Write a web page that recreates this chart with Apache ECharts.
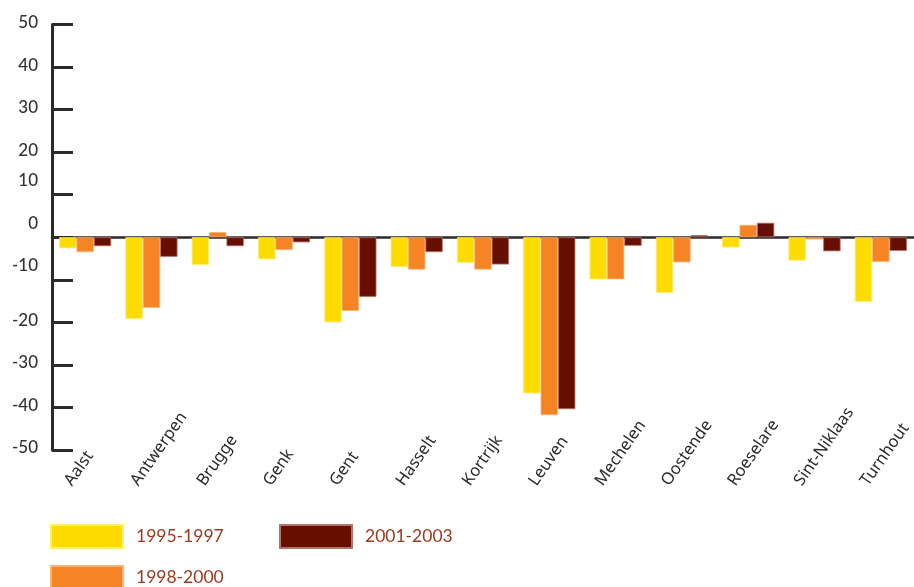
<!DOCTYPE html>
<html><head><meta charset="utf-8">
<script src="https://cdn.jsdelivr.net/npm/echarts@6/dist/echarts.min.js"></script>
<style>html,body{margin:0;padding:0;background:#fff}#c{width:914px;height:587px}</style>
</head><body><div id="c"></div>
<script>
const categories = ['Aalst','Antwerpen','Brugge','Genk','Gent','Hasselt','Kortrijk','Leuven','Mechelen','Oostende','Roeselare','Sint-Niklaas','Turnhout'];
const s1995 = [-2.6,-19.2,-6.5,-5.2,-20.0,-7.0,-6.0,-36.7,-9.9,-13.1,-2.4,-5.5,-15.2];
const s1998 = [-3.5,-16.6,1.2,-3.0,-17.3,-7.6,-7.6,-41.8,-9.9,-5.9,2.9,-0.5,-5.8];
const s2001 = [-2.1,-4.6,-2.1,-1.2,-14.0,-3.5,-6.4,-40.4,-2.0,0.5,3.4,-3.3,-3.2];
const yTicks = [-50,-40,-30,-20,-10,0,10,20,30,40,50];
const names = ['1995-1997','1998-2000','2001-2003'];
const colors = ['#FFDC00','#F58424','#660E00'];
const borders = ['#FFEA7A','#F9B27A','#B5746A'];

const chart = echarts.init(document.getElementById('c'));
const axisCol = '#2b2b2b';
const legendBase = {
  itemWidth: 72, itemHeight: 23, icon: 'rect', selectedMode: false,
  textStyle: {fontFamily: 'Lato', fontSize: 17.5, color: '#9A3A1E', padding: [0,0,0,8]}
};
chart.setOption({
  animation: false,
  grid: [
    {left: 52, right: -5, top: 24.5, bottom: 137},
    {left: 35, right: 12, top: 24.5, bottom: 137}
  ],
  legend: [
    Object.assign({}, legendBase, {data: [names[0]], left: 45, top: 519}),
    Object.assign({}, legendBase, {data: [names[2]], left: 274, top: 519}),
    Object.assign({}, legendBase, {data: [names[1]], left: 45, top: 560})
  ],
  xAxis: [
    {
      type: 'category', data: categories, gridIndex: 0,
      axisLine: {onZero: true, lineStyle: {color: axisCol, width: 2.5}},
      axisTick: {inside: true, length: 8, lineStyle: {color: axisCol, width: 2.5}},
      axisLabel: {show: false}
    },
    {
      type: 'category', data: categories, gridIndex: 1, position: 'bottom',
      axisLine: {show: false}, axisTick: {show: false},
      axisLabel: {rotate: 55, margin: 34, interval: 0, align: 'left', verticalAlign: 'middle',
        hideOverlap: false,
        fontFamily: 'Noto Sans', fontSize: 16.5, color: '#2b2b2b'}
    }
  ],
  yAxis: [
    {
      type: 'value', min: -50, max: 50, interval: 10, gridIndex: 0,
      splitLine: {show: false},
      axisLine: {show: true, lineStyle: {color: axisCol, width: 3}},
      axisTick: {show: true, inside: true, length: 21, lineStyle: {color: axisCol, width: 3}},
      axisLabel: {
        margin: 14, fontFamily: 'Lato', fontSize: 17, color: '#333',
        formatter: function (v) {
          return (v === 10 || v === 0 || v === -10) ? '{s|' + v + '}' : '{n|' + v + '}';
        },
        rich: {
          s: {fontFamily: 'Lato', fontSize: 17, fontWeight: 500, color: '#333', padding: [0,0,28,0]},
          n: {fontFamily: 'Lato', fontSize: 17, fontWeight: 500, color: '#333', padding: [0,0,4,0]}
        }
      }
    },
    {type: 'value', min: -50, max: 50, gridIndex: 1, show: false}
  ],
  series: [s1995, s1998, s2001].map(function (d, i) {
    return {
      name: names[i], type: 'bar', data: d, xAxisIndex: 0, yAxisIndex: 0,
      barWidth: '26.2%', barGap: '0%',
      itemStyle: {color: colors[i], borderColor: borders[i], borderWidth: 0.8}
    };
  })
});
</script></body></html>
